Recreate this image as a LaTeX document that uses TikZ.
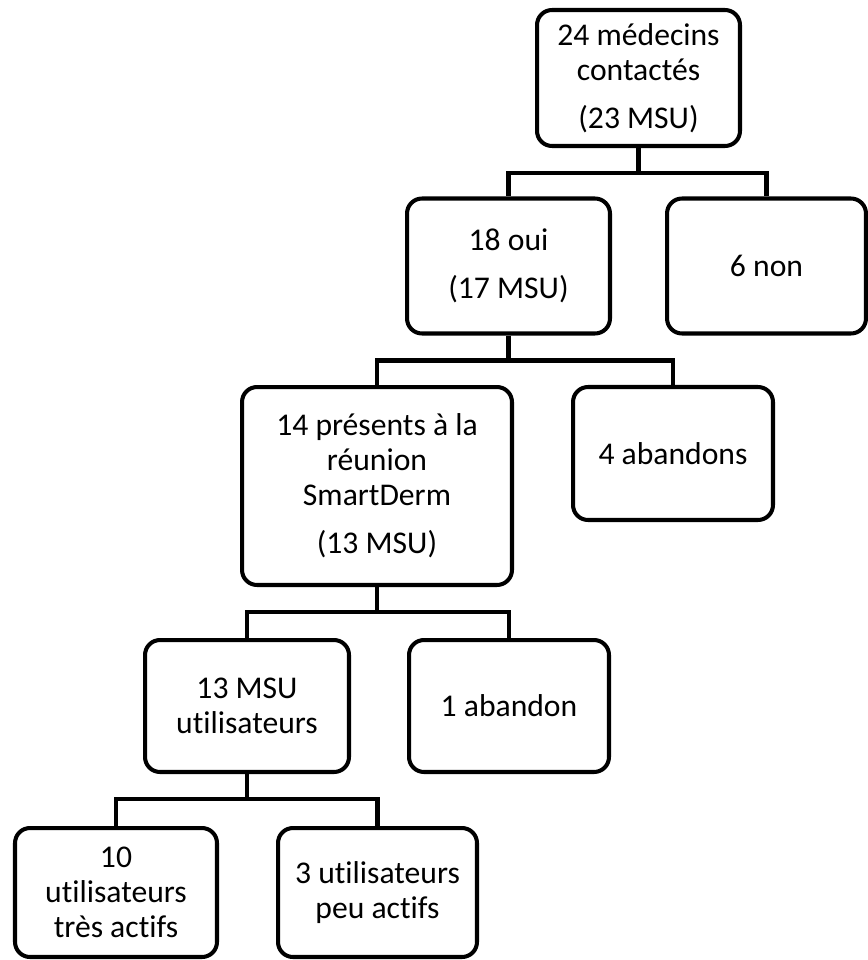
\documentclass[tikz,border=0pt]{standalone}
\usepackage{fontspec}
\setmainfont{Carlito}[Ligatures=NoCommon]
\usepackage{tikz}
\usepackage{xcolor}

\tikzset{
  flowbox/.style={draw, line width=2.3pt, rounded corners=0.3cm, align=center, inner sep=0pt,
    font=\fontsize{18}{19.9}\selectfont},
  tree/.style={line width=2.3pt}
}

\begin{document}
\begin{tikzpicture}[x=0.02cm, y=0.02cm]
\useasboundingbox (0,0) rectangle (868,-960);
\node (contact) [flowbox, minimum width=4.06cm, minimum height=2.72cm] at (638.5,-78) {24 médecins\\contactés\\[0.26cm](23 MSU)};
\node (oui) [flowbox, minimum width=4.06cm, minimum height=2.7cm] at (508.5,-266) {18 oui\\[0.26cm](17 MSU)};
\node (non) [flowbox, minimum width=3.98cm, minimum height=2.7cm] at (766.5,-266) {6 non};
\node (reunion) [flowbox, minimum width=5.4cm, minimum height=3.96cm] at (377,-486) {14 présents à la\\réunion\\SmartDerm\\[0.26cm](13 MSU)};
\node (abandons) [flowbox, minimum width=4cm, minimum height=2.66cm] at (673,-453.5) {4 abandons};
\node (utilisateurs) [flowbox, minimum width=4.08cm, minimum height=2.64cm] at (247,-706) {13 MSU\\utilisateurs};
\node (abandon) [flowbox, minimum width=4cm, minimum height=2.64cm] at (509,-706) {1 abandon};
\node (actifs) [flowbox, minimum width=4.04cm, minimum height=2.58cm] at (116,-892.5) {10\\utilisateurs\\très actifs};
\node (peuactifs) [flowbox, minimum width=3.98cm, minimum height=2.58cm] at (377.5,-892.5) {3 utilisateurs\\peu actifs};

\draw[tree] (contact.south) -- ++(0,-25) -| (oui.north);
\draw[tree] (contact.south) -- ++(0,-25) -| (non.north);
\draw[tree] (oui.south) -- ++(0,-25) -| (reunion.north);
\draw[tree] (oui.south) -- ++(0,-25) -| (abandons.north);
\draw[tree] (reunion.south) -- ++(0,-25) -| (utilisateurs.north);
\draw[tree] (reunion.south) -- ++(0,-25) -| (abandon.north);
\draw[tree] (utilisateurs.south) -- ++(0,-25) -| (actifs.north);
\draw[tree] (utilisateurs.south) -- ++(0,-25) -| (peuactifs.north);
\end{tikzpicture}
\end{document}
